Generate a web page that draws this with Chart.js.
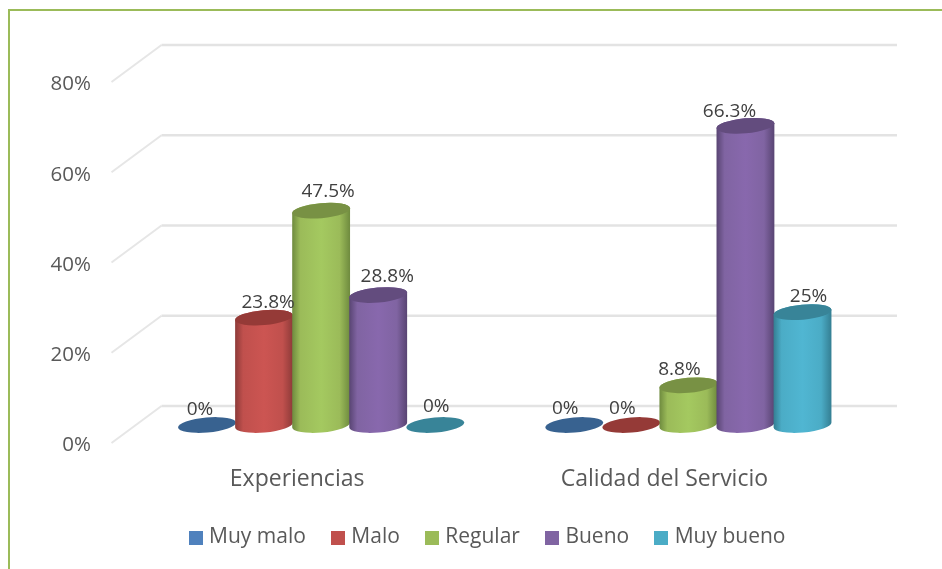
<!DOCTYPE html>
<html>
<head>
<meta charset="utf-8">
<style>
html,body{margin:0;padding:0;background:#fff;overflow:hidden}
canvas{display:block;filter:blur(0.4px)}
</style>
<script src="https://cdn.jsdelivr.net/npm/chart.js@4"></script>
</head>
<body>
<canvas id="c" width="942" height="569"></canvas>
<script>
const categories = ['Experiencias', 'Calidad del Servicio'];
const seriesNames = ['Muy malo', 'Malo', 'Regular', 'Bueno', 'Muy bueno'];
const muyMalo = [0, 0];
const malo = [23.8, 0];
const regular = [47.5, 8.8];
const bueno = [28.8, 66.3];
const muyBueno = [0, 25];
const seriesValues = [muyMalo, malo, regular, bueno, muyBueno];
const yTicks = [0, 20, 40, 60, 80];

const FONT = 'Open Sans';
const palette = [
  {base:'#4F81BD', light:'#5489C8', dark:'#355E8E', top:'#386290'},
  {base:'#C0504D', light:'#CC5552', dark:'#8C3A38', top:'#953A37'},
  {base:'#9BBB59', light:'#A4C960', dark:'#6E8A3E', top:'#789144'},
  {base:'#8064A2', light:'#8868AD', dark:'#584472', top:'#634C7E'},
  {base:'#4BACC6', light:'#50B6D2', dark:'#347E92', top:'#388498'}
];
// label nudges (dataset, category) relative to the top of each cylinder
const nudgeX = [[-7,-9],[4,-9],[7,-9],[9,-16],[1,6]];
const nudgeY = [[-15.5,-16.5],[-15.5,-16.5],[-19.5,-15.5],[-18.5,-14.5],[-18.5,-15.5]];

const legendSwatches = palette.map(p => {
  const s = document.createElement('canvas');
  s.width = 14; s.height = 14;
  const g = s.getContext('2d');
  g.fillStyle = p.base; g.fillRect(0,0,14,14);
  return s;
});

const ROT = -5 * Math.PI / 180, MINOR = 7.5;

const scene = {
  id: 'scene',
  beforeDraw(chart) {
    const {ctx} = chart, y = chart.scales.y, area = chart.chartArea;
    ctx.save();
    // page frame
    ctx.strokeStyle = '#9BBB59'; ctx.lineWidth = 2;
    ctx.beginPath(); ctx.moveTo(9, 569); ctx.lineTo(9, 10); ctx.lineTo(942, 10); ctx.stroke();
    // 3D gridlines
    yTicks.forEach(v => {
      const p = y.getPixelForValue(v);
      ctx.strokeStyle = '#E6E6E6'; ctx.lineWidth = 2;
      ctx.beginPath(); ctx.moveTo(area.left - 26, p + 18); ctx.lineTo(area.left + 24, p - 19); ctx.stroke();
      ctx.strokeStyle = '#E3E3E3'; ctx.lineWidth = 2.5;
      ctx.beginPath(); ctx.moveTo(area.left + 24, p - 19); ctx.lineTo(area.right + 25, p - 19); ctx.stroke();
    });
    ctx.restore();
  },
  beforeDatasetsDraw(chart) {
    const {ctx} = chart;
    chart.data.datasets.forEach((ds, d) => {
      const meta = chart.getDatasetMeta(d), col = palette[d];
      meta.data.forEach(el => {
        const a = el.width / 2 + 0.5, cx = el.x, top = el.y, base = el.base;
        ctx.save();
        if (base - top > 0.5) {
          const g = ctx.createLinearGradient(cx - a, 0, cx + a, 0);
          g.addColorStop(0, col.dark); g.addColorStop(0.14, col.base);
          g.addColorStop(0.5, col.light); g.addColorStop(0.82, col.base);
          g.addColorStop(1, col.dark);
          ctx.fillStyle = g;
          ctx.beginPath();
          ctx.ellipse(cx, base, a, MINOR, ROT, Math.PI, 0, true);
          ctx.ellipse(cx, top, a, MINOR, ROT, 0, Math.PI, true);
          ctx.closePath(); ctx.fill();
        }
        ctx.fillStyle = col.top;
        ctx.beginPath(); ctx.ellipse(cx, top, a, MINOR, ROT, 0, Math.PI * 2); ctx.fill();
        ctx.restore();
      });
    });
    // data labels
    ctx.save();
    ctx.font = '19px "' + FONT + '"';
    ctx.fillStyle = '#404040'; ctx.textAlign = 'center'; ctx.textBaseline = 'middle';
    chart.data.datasets.forEach((ds, d) => {
      chart.getDatasetMeta(d).data.forEach((el, i) => {
        ctx.fillText(ds.data[i] + '%', el.x + nudgeX[d][i], el.y + nudgeY[d][i]);
      });
    });
    ctx.restore();
    return false;
  }
};

new Chart(document.getElementById('c'), {
  type: 'bar',
  plugins: [scene],
  data: {
    labels: categories,
    datasets: seriesNames.map((n, d) => ({
      label: n, data: seriesValues[d], backgroundColor: palette[d].base, borderWidth: 0
    }))
  },
  options: {
    responsive: false,
    animation: false,
    events: [],
    layout: {padding: {left: 36, top: 64, right: 0, bottom: 11}},
    datasets: {bar: {categoryPercentage: 0.777, barPercentage: 1}},
    scales: {
      x: {
        grid: {display: false, drawTicks: false}, border: {display: false},
        afterFit(s) { s.height = 73; },
        ticks: {padding: 41, labelOffset: -24, maxRotation: 0, color: '#595959', font: {family: FONT, size: 23}}
      },
      y: {
        min: 0, max: 80,
        grid: {display: false, drawTicks: false}, border: {display: false},
        afterFit(s) { s.width = 101.5; },
        afterBuildTicks(s) { s.ticks = yTicks.map(v => ({value: v})); },
        ticks: {padding: 46.5, labelOffset: 20.5, color: '#595959', font: {family: FONT, size: 20.5}, callback: v => v + '%'}
      },
      y2: {
        position: 'right', display: true,
        grid: {display: false, drawTicks: false}, border: {display: false},
        ticks: {display: false},
        afterFit(s) { s.width = 70; }
      }
    },
    plugins: {
      tooltip: {enabled: false},
      legend: {
        position: 'bottom',
        labels: {
          usePointStyle: true, pointStyleWidth: 6, padding: 29,
          color: '#595959', font: {family: FONT, size: 21},
          generateLabels(chart) {
            return Chart.defaults.plugins.legend.labels.generateLabels(chart)
              .map((l, i) => Object.assign(l, {pointStyle: legendSwatches[i]}));
          }
        }
      }
    }
  }
});
</script>
</body>
</html>
